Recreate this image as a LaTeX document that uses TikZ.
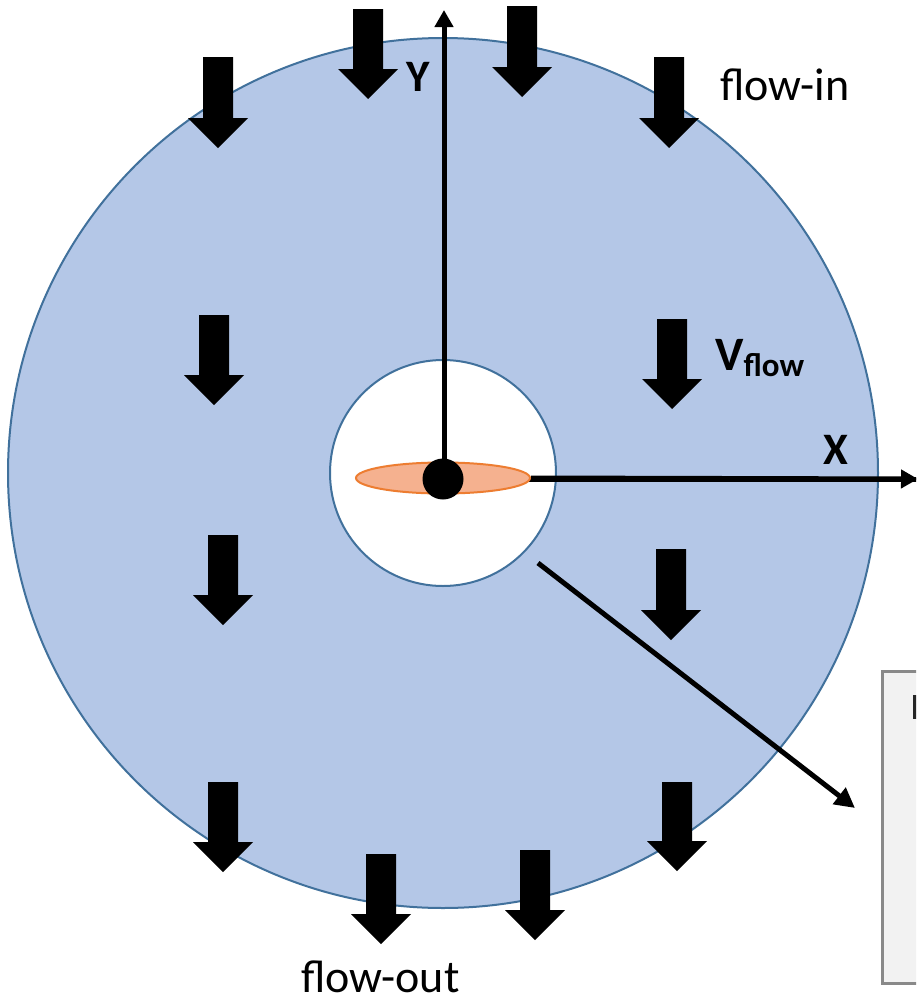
\documentclass[tikz,border=0pt]{standalone}
\usepackage{fontspec}
\setmainfont{Carlito}
\usetikzlibrary{shapes.geometric,arrows.meta}
\definecolor{diskfill}{HTML}{B4C7E7}
\definecolor{diskline}{HTML}{41719C}
\definecolor{ellfill}{HTML}{F5B18F}
\definecolor{ellline}{HTML}{ED7D31}
\definecolor{boxfill}{HTML}{F2F2F2}
\definecolor{boxline}{HTML}{898989}
\tikzset{
  disk/.style={circle,draw=diskline,line width=2pt,inner sep=0pt},
  axis/.style={line width=5pt,-{Triangle[width=18pt,length=17pt]}},
  lbl/.style={inner sep=0pt,font=\fontsize{46}{55}\selectfont},
  boldlbl/.style={inner sep=0pt,font=\bfseries\fontsize{45}{54}\selectfont},
  flowarrow/.style={fill=black}
}
\begin{document}
\begin{tikzpicture}[x=1pt,y=-1pt]
\clip (0,0) rectangle (916,999);
\fill[white] (0,0) rectangle (916,999);
% disks
\node[disk,fill=diskfill,minimum size=870pt] (outer) at (443,473) {};
\node[disk,fill=white,minimum size=226pt] (inner) at (443,473) {};
% centre
\coordinate (c) at (444,479);
\coordinate (ytip) at (444,10);
\coordinate (xtip) at (918,479);
\draw[axis] (c) -- (ytip);
\draw[line width=5pt] (c) -- (xtip);
\node[ellipse,draw=ellline,line width=2pt,fill=ellfill,minimum width=174pt,minimum height=31pt,inner sep=0pt] (ell) at (443,478) {};
\draw[axis] (ell.east) -- (xtip);
\node[circle,fill=black,minimum size=41pt,inner sep=0pt] (dot) at (443,479) {};
% diagonal pointer
\coordinate (dstart) at (538,563);
\coordinate (dend) at (855,808);
\draw[line width=5pt,-{Triangle[width=20pt,length=20pt]}] (dstart) -- (dend);
% flow arrows
\foreach \cx/\tp/\tip in {368/9/99,522/6/97,218/57/148,669/57/148,214/315/405,672/319/409,223/535/625,671/549/640,223/782/872,677/782/871,381/854/944,535/850/940}{
  \fill[flowarrow] (\cx-15,\tp) -- (\cx+15,\tp) -- (\cx+15,\tip-30) -- (\cx+30,\tip-30) -- (\cx,\tip) -- (\cx-30,\tip-30) -- (\cx-15,\tip-30) -- cycle;
}
% labels
\node[boldlbl] (ylbl) at (418,77) {Y};
\node[boldlbl] (xlbl) at (836,450) {X};
\node[inner sep=0pt,anchor=base west,font=\bfseries\fontsize{48}{56}\selectfont] (vflow) at (715,370) {V\raisebox{-6pt}{\fontsize{33}{40}\selectfont flow}};
\node[lbl,anchor=base west] (flowin) at (720,100) {flow-in};
\node[lbl,anchor=base west] (flowout) at (301,992) {flow-out};
% clipped box at right
\draw[boxline,fill=boxfill,line width=3pt] (882,671) rectangle (940,983);
\fill[black!85] (913,695) rectangle (918,719);
\end{tikzpicture}
\end{document}
